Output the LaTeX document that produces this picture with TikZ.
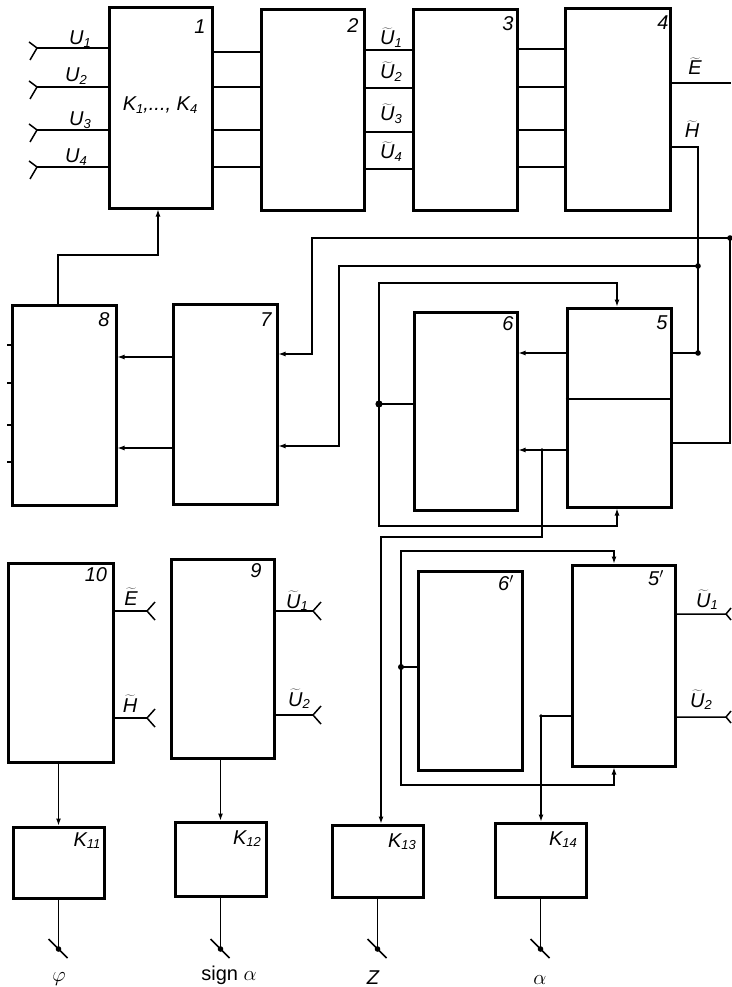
\documentclass[tikz,border=0pt]{standalone}
\usepackage{fontspec}
\setmainfont{Liberation Sans}
\usetikzlibrary{arrows.meta}
\newcommand\lab[2]{#1\raisebox{-2.5pt}{\fontsize{13}{13}\selectfont #2}}
\newcommand\tl[1]{$\widetilde{\mbox{#1}}$}
\begin{document}
\begin{tikzpicture}[x=1pt,y=-1pt,
  blk/.style={draw, line width=3pt, rectangle, inner sep=0pt},
  wire/.style={line width=1.2pt},
  arr/.style={line width=1.2pt, -{Latex[length=7pt,width=5pt]}},
  lbl/.style={font=\fontsize{20}{22}\selectfont\itshape, inner sep=0pt},
  num/.style={font=\fontsize{20}{22}\selectfont\itshape, inner sep=0pt}]
\useasboundingbox (0,0) rectangle (731,987);
\newcommand\blk[5]{\node[blk, minimum width={(#4-#2)*1pt}, minimum height={(#5-#3)*1pt}] (#1) at ({(#2+#4)/2},{(#3+#5)/2}) {};}
\newcommand\forkL[1]{\draw[line width=1.5pt] (#1) ++(-8,-6) -- (#1) -- ++(-7,12);}
\newcommand\forkR[1]{\draw[line width=1.5pt] (#1) ++(8,-9) -- (#1) -- ++(8,9);}
\newcommand\term[1]{\draw[line width=1.5pt] (#1) ++(-10,-10) -- ++(19,19); \fill (#1) circle[radius=2.8pt];}
\newcommand\jdot[1]{\fill (#1) circle[radius=2.8pt];}
% blocks
\blk{b1}{109}{8}{212}{208}
\blk{b2}{261}{10}{364}{210}
\blk{b3}{413}{10}{517}{210}
\blk{b4}{565}{9}{670}{210}
\blk{b8}{12}{305}{116}{505}
\blk{b7}{173}{304}{277}{504}
\blk{b6}{414}{312}{517}{510}
\blk{b5}{567}{308}{671}{507}
\blk{b10}{8}{563}{113}{762}
\blk{b9}{171}{559}{274}{758}
\blk{b6p}{418}{571}{522}{770}
\blk{b5p}{572}{565}{675}{766}
\blk{k11}{13}{827}{104}{898}
\blk{k12}{175}{822}{266}{896}
\blk{k13}{332}{825}{423}{897}
\blk{k14}{495}{823}{586}{897}
% block labels
\node[num] at (200,27) {1};
\node[num] at (353,26) {2};
\node[num] at (508,24) {3};
\node[num] at (663,23) {4};
\node[num] at (104,320) {8};
\node[num] at (266,320) {7};
\node[num] at (508,324) {6};
\node[num] at (662,323) {5};
\node[num] at (96,575) {10};
\node[num] at (256,571) {9};
\node[num] at (506,583) {6$'$};
\node[num] at (656,578) {5$'$};
\node[lbl, anchor=base] at (160,111) {\lab{K}{1},..., \lab{K}{4}};
\node[lbl, anchor=base] at (87,846) {\lab{K}{11}};
\node[lbl, anchor=base] at (247,844) {\lab{K}{12}};
\node[lbl, anchor=base] at (402,847) {\lab{K}{13}};
\node[lbl, anchor=base] at (563,845) {\lab{K}{14}};
% inputs to block 1
\foreach \y/\ly/\lx [count=\i] in {48/45/80,87/82/76,130/126/80,167/163/76} {
  \coordinate (in\i) at (37,\y);
  \draw[line width=1.5pt] (in\i) -- (b1.west |- in\i);
  \forkL{in\i}
  \node[lbl, anchor=base] at (\lx,\ly) {\lab{U}{\i}};
}
\foreach \y in {52,87,130,167} \draw[wire] (b1.east |- 0,\y) -- (b2.west |- 0,\y);
\foreach \y/\ly [count=\i] in {50/45,88/79,132/121,169/159} {
  \draw[wire] (b2.east |- 0,\y) -- (b3.west |- 0,\y);
  \node[lbl, anchor=base] at (391,\ly) {\lab{\tl{U}}{\i}};
}
\foreach \y in {49,87,130,167} \draw[wire] (b3.east |- 0,\y) -- (b4.west |- 0,\y);
% outputs of block 4
\coordinate (Eout) at (731,83);
\draw[wire] (b4.east |- Eout) -- (Eout);
\node[lbl, anchor=base] at (695,75) {\tl{E}};
\node[lbl, anchor=base] at (692,138) {\tl{H}};
\coordinate (jH) at (698,147);
\coordinate (j1) at (698,266);
\coordinate (j2) at (698,353);
\draw[wire] (b4.east |- jH) -- (jH) -- (j2) -- (b5.east |- j2);
\jdot{j1} \jdot{j2}
\draw[arr] (j1) -- (339,266) -- (339,446) -- (b7.east |- 0,446);
\coordinate (r1) at (730,443);
\coordinate (r2) at (730,238);
\draw[arr] (b5.east |- r1) -- (r1) -- (r2) -- (312,238) -- (312,354) -- (b7.east |- 0,354);
\jdot{r2}
% 7 -> 8
\draw[arr] (b7.west |- 0,357) -- (b8.east |- 0,357);
\draw[arr] (b7.west |- 0,448) -- (b8.east |- 0,448);
% 8 -> 1
\draw[arr] (b8.north -| 58,0) -- (58,255) -- (158,255) -- (b1.south -| 158,0);
\foreach \y in {345,383,425,462} \draw[wire] (b8.west |- 0,\y) -- ++(-4,0);
% block 5 / 6
\draw[line width=1.3pt] (b5.west |- 0,399) -- (b5.east |- 0,399);
\draw[arr] (b5.west |- 0,353) -- (b6.east |- 0,353);
\coordinate (j3) at (542,450);
\draw[arr] (b5.west |- j3) -- (b6.east |- j3);
\fill (j3) circle[radius=1.8pt];
\draw[arr] (j3) -- (542,537) -- (381,537) -- (k13.north -| 381,0);
\coordinate (j4) at (379,404);
\draw[wire] (b6.west |- j4) -- (j4);
\draw[arr] (j4) -- (379,283) -- (617,283) -- (b5.north -| 617,0);
\draw[arr] (j4) -- (379,526) -- (617,526) -- (b5.south -| 617,0);
\fill (j4) circle[radius=3.6pt];
% block 5' / 6'
\coordinate (j5) at (401,667);
\draw[wire] (b6p.west |- j5) -- (j5);
\draw[arr] (j5) -- (401,551) -- (614,551) -- (b5p.north -| 614,0);
\draw[arr] (j5) -- (401,785) -- (614,785) -- (b5p.south -| 614,0);
\fill (j5) circle[radius=3pt];
\coordinate (j6) at (541,716);
\draw[arr] (b5p.west |- j6) -- (j6) -- (k14.north -| j6);
\fill (j6) circle[radius=1.8pt];
\coordinate (f1) at (726,614);
\coordinate (f2) at (726,717);
\draw[line width=1.5pt] (b5p.east |- f1) -- (f1) -- ++(5,-6) (f1) -- ++(5,6);
\draw[line width=1.5pt] (b5p.east |- f2) -- (f2) -- ++(5,-6) (f2) -- ++(5,6);
\node[lbl, anchor=base] at (707,607) {\lab{\tl{U}}{1}};
\node[lbl, anchor=base] at (701,707) {\lab{\tl{U}}{2}};
% block 10 and 9 inputs
\coordinate (f3) at (147,611);
\coordinate (f4) at (147,718);
\coordinate (f5) at (313,611);
\coordinate (f6) at (313,715);
\draw[line width=1.5pt] (b10.east |- f3) -- (f3); \forkR{f3}
\draw[line width=1.5pt] (b10.east |- f4) -- (f4); \forkR{f4}
\draw[wire] (b9.east |- f5) -- (f5); \forkR{f5}
\draw[wire] (b9.east |- f6) -- (f6); \forkR{f6}
\node[lbl, anchor=base] at (131,605) {\tl{E}};
\node[lbl, anchor=base] at (130,712) {\tl{H}};
\node[lbl, anchor=base] at (297,608) {\lab{\tl{U}}{1}};
\node[lbl, anchor=base] at (299,706) {\lab{\tl{U}}{2}};
% to K blocks
\draw[arr] (k11.north |- b10.south) -- (k11.north);
\draw[arr] (k12.north |- b9.south) -- (k12.north);
% outputs
\coordinate (t11) at (k11.south |- 0,949);
\coordinate (t12) at (k12.south |- 0,949);
\coordinate (t13) at (k13.south |- 0,949);
\coordinate (t14) at (k14.south |- 0,949);
\draw[wire] (k11.south) -- (t11); \term{t11}
\draw[wire] (k12.south) -- (t12); \term{t12}
\draw[wire] (k13.south) -- (t13); \term{t13}
\draw[wire] (k14.south) -- (t14); \term{t14}
\node[lbl] at (59,979) {$\varphi$};
\node[lbl, anchor=base, font=\fontsize{20}{22}\selectfont] at (229,980) {sign $\alpha$};
\node[lbl, anchor=base] at (373,984) {Z};
\node[lbl, anchor=base] at (540,984) {$\alpha$};
\end{tikzpicture}
\end{document}
